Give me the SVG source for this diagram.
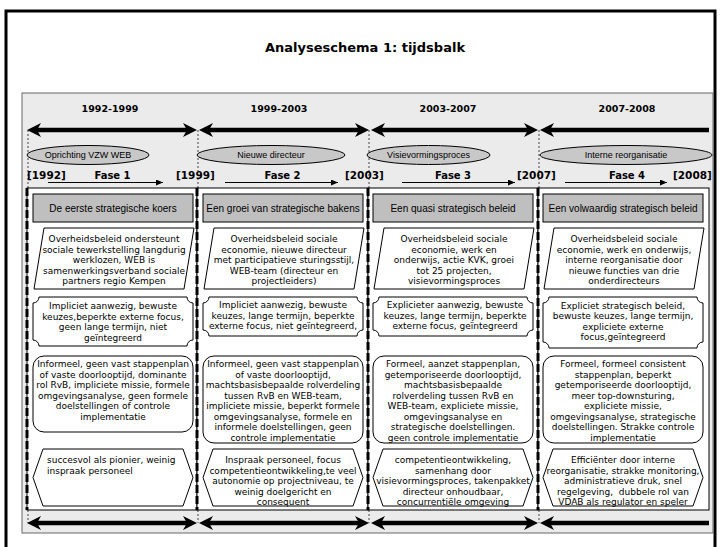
<svg xmlns="http://www.w3.org/2000/svg" width="721" height="547" viewBox="0 0 721 547">
<defs>
<style>
.t{font-family:"DejaVu Sans",Verdana,sans-serif;font-size:9px;fill:#000;text-anchor:middle}
.tl{font-family:"DejaVu Sans",Verdana,sans-serif;font-size:9px;fill:#000;text-anchor:start}
.b{font-family:"DejaVu Sans",Verdana,sans-serif;font-weight:bold;fill:#000}
.a{font-family:"Liberation Sans",Arial,sans-serif;fill:#000;text-anchor:middle}
.shape{fill:#fff;stroke:#000;stroke-width:1}
.hd{fill:#bfbfbf;stroke:#000;stroke-width:1}
.el{fill:#c8c8c8;stroke:#000;stroke-width:1}
.tb{stroke:#000;stroke-width:4.5;fill:none;marker-start:url(#big);marker-end:url(#big)}
.tb1{stroke:#000;stroke-width:4.5;fill:none;marker-start:url(#big)}
.ph{stroke:#000;stroke-width:1;fill:none;marker-end:url(#small)}
.dot{stroke:#444;stroke-width:1;stroke-dasharray:2 2;fill:none}
.sep{stroke:#000;stroke-width:3;stroke-dasharray:8 3;fill:none}
.col{fill:#fff;stroke:#000;stroke-width:1}
</style>
<marker id="big" viewBox="0 0 14 14" markerWidth="14" markerHeight="14" refX="8" refY="7" markerUnits="userSpaceOnUse" orient="auto-start-reverse">
<path d="M0,0 L14,7 L0,14 L4,7 Z" fill="#000"/>
</marker>
<marker id="small" viewBox="0 0 7 6" markerWidth="7" markerHeight="6" refX="7" refY="3" markerUnits="userSpaceOnUse" orient="auto">
<path d="M0,0 L7,3 L0,6 Z" fill="#000"/>
</marker>
</defs>

<rect x="0" y="0" width="721" height="547" fill="#fff"/>
<rect x="6" y="11" width="709" height="560" fill="none" stroke="#000" stroke-width="3"/>
<text class="b" x="365" y="52" font-size="13" text-anchor="middle">Analyseschema 1: tijdsbalk</text>

<rect x="22" y="93" width="691" height="440" fill="#ebebeb" stroke="#666" stroke-width="1"/>

<g id="years" class="b" font-size="9.5" text-anchor="middle">
<text x="110" y="111.5">1992-1999</text>
<text x="279" y="111.5">1999-2003</text>
<text x="448" y="111.5">2003-2007</text>
<text x="627" y="111.5">2007-2008</text>
</g>

<g id="guides">
<line class="dot" x1="28" y1="130" x2="28" y2="523"/>
<line class="dot" x1="198" y1="130" x2="198" y2="523"/>
<line class="dot" x1="369" y1="130" x2="369" y2="523"/>
<line class="dot" x1="539" y1="130" x2="539" y2="523"/>
</g>

<g id="e1"><ellipse class="el" cx="88" cy="155" rx="61" ry="9.5"/><text class="a" x="88" y="158.2" font-size="9">Oprichting VZW WEB</text></g>
<g id="e2"><ellipse class="el" cx="271" cy="155" rx="74" ry="9.5"/><text class="a" x="271" y="158.2" font-size="9">Nieuwe directeur</text></g>
<g id="e3"><ellipse class="el" cx="428.5" cy="155" rx="61.5" ry="9.5"/><text class="a" x="428.5" y="158.2" font-size="9">Visievormingsproces</text></g>
<g id="e4"><ellipse class="el" cx="626" cy="155" rx="86" ry="9.5"/><text class="a" x="626" y="158.2" font-size="9">Interne reorganisatie</text></g>

<g id="phases" class="b">
<text x="27" y="179" font-size="10.5">[1992]</text>
<text x="176" y="179" font-size="10.5">[1999]</text>
<text x="345" y="179" font-size="10.5">[2003]</text>
<text x="517" y="179" font-size="10.5">[2007]</text>
<text x="673" y="179" font-size="10.5">[2008]</text>
<text x="112.5" y="178.5" font-size="10" text-anchor="middle">Fase 1</text>
<text x="282.5" y="178.5" font-size="10" text-anchor="middle">Fase 2</text>
<text x="453" y="178.5" font-size="10" text-anchor="middle">Fase 3</text>
<text x="627" y="178.5" font-size="10" text-anchor="middle">Fase 4</text>
</g>

<g id="columns">
<rect class="col" x="27" y="188" width="170" height="322"/>
<rect class="col" x="197" y="188" width="171" height="322"/>
<rect class="col" x="368" y="188" width="170" height="322"/>
<rect class="col" x="538" y="188" width="171" height="322"/>
<line class="sep" x1="27" y1="188" x2="27" y2="510"/>
<line class="sep" x1="197" y1="188" x2="197" y2="510"/>
<line class="sep" x1="368" y1="188" x2="368" y2="510"/>
<line class="sep" x1="538" y1="188" x2="538" y2="510"/>
</g>

<g id="connectors">
<line class="tb" x1="33" y1="130" x2="191" y2="130"/>
<line class="tb" x1="205" y1="130" x2="363" y2="130"/>
<line class="tb" x1="377" y1="130" x2="532" y2="130"/>
<line class="tb1" x1="546" y1="130" x2="709" y2="130"/>
<line class="tb" x1="33" y1="523" x2="191" y2="523"/>
<line class="tb" x1="205" y1="523" x2="363" y2="523"/>
<line class="tb" x1="377" y1="523" x2="532" y2="523"/>
<line class="tb1" x1="546" y1="523" x2="709" y2="523"/>
<line class="ph" x1="48" y1="182.5" x2="163" y2="182.5"/>
<line class="ph" x1="225" y1="182.5" x2="338" y2="182.5"/>
<line class="ph" x1="402" y1="182.5" x2="515" y2="182.5"/>
<line class="ph" x1="565" y1="182.5" x2="667" y2="182.5"/>
</g>

<!-- Column 1 -->
<g id="c1-head"><rect class="hd" x="33" y="194" width="160" height="28"/><text class="a" x="113" y="211.5" font-size="10">De eerste strategische koers</text></g>
<g id="c1-context"><path class="shape" d="M44,228 L194,228 L184,289 L34,289 Z"/>
<text class="t" x="114" y="242">Overheidsbeleid ondersteunt</text>
<text class="t" x="114" y="252.5">sociale tewerkstelling langdurig</text>
<text class="t" x="114" y="263">werklozen, WEB is</text>
<text class="t" x="114" y="273.5">samenwerkingsverband sociale</text>
<text class="t" x="114" y="284">partners regio Kempen</text></g>
<g id="c1-strategy"><path class="shape" d="M39,297 L187,297 A6,6 0 0 0 193,303 L193,340 A6,6 0 0 0 187,346 L39,346 A6,6 0 0 0 33,340 L33,303 A6,6 0 0 0 39,297 Z"/>
<text class="t" x="113" y="309">Impliciet aanwezig, bewuste</text>
<text class="t" x="113" y="319.5">keuzes,beperkte externe focus,</text>
<text class="t" x="113" y="330">geen lange termijn, niet</text>
<text class="t" x="113" y="340.5">geïntegreerd</text></g>
<g id="c1-process"><rect class="shape" x="33" y="356" width="160" height="76" rx="11"/>
<text class="t" x="113" y="367">Informeel, geen vast stappenplan</text>
<text class="t" x="113" y="377.5">of vaste doorlooptijd, dominante</text>
<text class="t" x="113" y="388">rol RvB, impliciete missie, formele</text>
<text class="t" x="113" y="398.5">omgevingsanalyse, geen formele</text>
<text class="t" x="113" y="409">doelstellingen of controle</text>
<text class="t" x="113" y="419.5">implementatie</text></g>
<g id="c1-result"><path class="shape" d="M33,477.5 L43,449 L183,449 L193,477.5 L183,506 L43,506 Z"/>
<text class="tl" x="47" y="463">succesvol als pionier, weinig</text>
<text class="tl" x="47" y="474">inspraak personeel</text></g>

<!-- Column 2 -->
<g id="c2-head"><rect class="hd" x="203" y="194" width="160" height="28"/><text class="a" x="283" y="211.5" font-size="10">Een groei van strategische bakens</text></g>
<g id="c2-context"><path class="shape" d="M214,228 L364,228 L354,289 L204,289 Z"/>
<text class="t" x="284" y="242">Overheidsbeleid sociale</text>
<text class="t" x="284" y="252.5">economie, nieuwe directeur</text>
<text class="t" x="284" y="263">met participatieve sturingsstijl,</text>
<text class="t" x="284" y="273.5">WEB-team (directeur en</text>
<text class="t" x="284" y="284">projectleiders)</text></g>
<g id="c2-strategy"><path class="shape" d="M209,297 L357,297 A6,6 0 0 0 363,303 L363,330 A6,6 0 0 0 357,336 L209,336 A6,6 0 0 0 203,330 L203,303 A6,6 0 0 0 209,297 Z"/>
<text class="t" x="283" y="308">Impliciet aanwezig, bewuste</text>
<text class="t" x="283" y="318.5">keuzes, lange termijn, beperkte</text>
<text class="t" x="283" y="329">externe focus, niet geïntegreerd,</text></g>
<g id="c2-process"><rect class="shape" x="203" y="356" width="160" height="87" rx="11"/>
<text class="t" x="283" y="367">Informeel, geen vast stappenplan</text>
<text class="t" x="283" y="377.5">of vaste doorlooptijd,</text>
<text class="t" x="283" y="388">machtsbasisbepaalde rolverdeling</text>
<text class="t" x="283" y="398.5">tussen RvB en WEB-team,</text>
<text class="t" x="283" y="409">impliciete missie, beperkt formele</text>
<text class="t" x="283" y="419.5">omgevingsanalyse, formele en</text>
<text class="t" x="283" y="430">informele doelstellingen, geen</text>
<text class="t" x="283" y="440.5">controle implementatie</text></g>
<g id="c2-result"><path class="shape" d="M203,477.5 L213,449 L353,449 L363,477.5 L353,506 L213,506 Z"/>
<text class="t" x="283" y="463">Inspraak personeel, focus</text>
<text class="t" x="283" y="473.5">competentieontwikkeling,te veel</text>
<text class="t" x="283" y="484">autonomie op projectniveau, te</text>
<text class="t" x="283" y="494.5">weinig doelgericht en</text>
<text class="t" x="283" y="505">consequent</text></g>

<!-- Column 3 -->
<g id="c3-head"><rect class="hd" x="373" y="194" width="160" height="28"/><text class="a" x="453" y="211.5" font-size="10">Een quasi strategisch beleid</text></g>
<g id="c3-context"><path class="shape" d="M384,228 L534,228 L524,289 L374,289 Z"/>
<text class="t" x="454" y="242">Overheidsbeleid sociale</text>
<text class="t" x="454" y="252.5">economie, werk en</text>
<text class="t" x="454" y="263">onderwijs, actie KVK, groei</text>
<text class="t" x="454" y="273.5">tot 25 projecten,</text>
<text class="t" x="454" y="284">visievormingsproces</text></g>
<g id="c3-strategy"><path class="shape" d="M379,297 L527,297 A6,6 0 0 0 533,303 L533,330 A6,6 0 0 0 527,336 L379,336 A6,6 0 0 0 373,330 L373,303 A6,6 0 0 0 379,297 Z"/>
<text class="t" x="455" y="308">Explicieter aanwezig, bewuste</text>
<text class="t" x="455" y="318.5">keuzes, lange termijn, beperkte</text>
<text class="t" x="455" y="329">externe focus, geïntegreerd</text></g>
<g id="c3-process"><rect class="shape" x="373" y="356" width="160" height="87" rx="11"/>
<text class="t" x="453" y="367">Formeel, aanzet stappenplan,</text>
<text class="t" x="453" y="377.5">getemporiseerde doorlooptijd,</text>
<text class="t" x="453" y="388">machtsbasisbepaalde</text>
<text class="t" x="453" y="398.5">rolverdeling tussen RvB en</text>
<text class="t" x="453" y="409">WEB-team, expliciete missie,</text>
<text class="t" x="453" y="419.5">omgevingsanalyse en</text>
<text class="t" x="453" y="430">strategische doelstellingen.</text>
<text class="t" x="453" y="440.5">geen controle implementatie</text></g>
<g id="c3-result"><path class="shape" d="M373,477.5 L383,449 L523,449 L533,477.5 L523,506 L383,506 Z"/>
<text class="t" x="453" y="463">competentieontwikkeling,</text>
<text class="t" x="453" y="473.5">samenhang door</text>
<text class="t" x="453" y="484">visievormingsproces, takenpakket</text>
<text class="t" x="453" y="494.5">directeur onhoudbaar,</text>
<text class="t" x="453" y="505">concurrentiële omgeving</text></g>

<!-- Column 4 -->
<g id="c4-head"><rect class="hd" x="543" y="194" width="160" height="28"/><text class="a" x="623" y="211.5" font-size="10">Een volwaardig strategisch beleid</text></g>
<g id="c4-context"><path class="shape" d="M554,228 L704,228 L694,289 L544,289 Z"/>
<text class="t" x="624" y="242">Overheidsbeleid sociale</text>
<text class="t" x="624" y="252.5">economie, werk en onderwijs,</text>
<text class="t" x="624" y="263">interne reorganisatie door</text>
<text class="t" x="624" y="273.5">nieuwe functies van drie</text>
<text class="t" x="624" y="284">onderdirecteurs</text></g>
<g id="c4-strategy"><path class="shape" d="M549,297 L697,297 A6,6 0 0 0 703,303 L703,342 A6,6 0 0 0 697,348 L549,348 A6,6 0 0 0 543,342 L543,303 A6,6 0 0 0 549,297 Z"/>
<text class="t" x="623" y="308.5">Expliciet strategisch beleid,</text>
<text class="t" x="623" y="319">bewuste keuzes, lange termijn,</text>
<text class="t" x="623" y="329.5">expliciete externe</text>
<text class="t" x="623" y="340">focus,geïntegreerd</text></g>
<g id="c4-process"><rect class="shape" x="543" y="356" width="160" height="87" rx="11"/>
<text class="t" x="623" y="367">Formeel, formeel consistent</text>
<text class="t" x="623" y="377.5">stappenplan, beperkt</text>
<text class="t" x="623" y="388">getemporiseerde doorlooptijd,</text>
<text class="t" x="623" y="398.5">meer top-downsturing,</text>
<text class="t" x="623" y="409">expliciete missie,</text>
<text class="t" x="623" y="419.5">omgevingsanalyse, strategische</text>
<text class="t" x="623" y="430">doelstellingen. Strakke controle</text>
<text class="t" x="623" y="440.5">implementatie</text></g>
<g id="c4-result"><path class="shape" d="M543,477.5 L553,449 L693,449 L703,477.5 L693,506 L553,506 Z"/>
<text class="t" x="623" y="463">Efficiënter door interne</text>
<text class="t" x="623" y="473.5">reorganisatie, strakke monitoring,</text>
<text class="t" x="623" y="484">administratieve druk, snel</text>
<text class="t" x="623" y="494.5" style="white-space:pre">regelgeving,  dubbele rol van</text>
<text class="t" x="623" y="505">VDAB als regulator en speler</text></g>
</svg>
